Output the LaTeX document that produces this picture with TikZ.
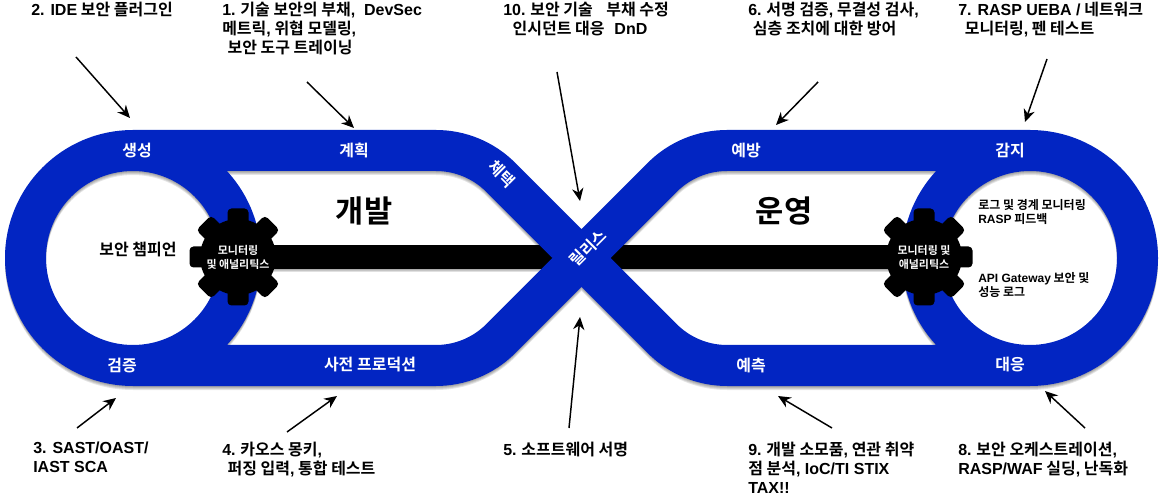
\documentclass[tikz,border=0pt]{standalone}
\usepackage{fontspec}
\setmainfont{Noto Sans CJK KR}[BoldFont=* Bold]
\newfontfamily\latfont{Liberation Sans}
\newcommand{\lat}[1]{{\latfont\bfseries #1}}
\definecolor{bandblue}{RGB}{2,37,194}
\newcommand{\bandpath}{(133,349.5) -- (436,349.5) arc[start angle=90,end angle=45,radius=91.5]
 -- (662.3,161.3) arc[start angle=225,end angle=270,radius=91.5]
 -- (1030,134.5) arc[start angle=-90,end angle=90,radius=107.5]
 -- (727,349.5) arc[start angle=90,end angle=135,radius=91.5]
 -- (500.7,161.3) arc[start angle=-45,end angle=-90,radius=91.5]
 -- (133,134.5) arc[start angle=270,end angle=90,radius=107.5] -- cycle
 (133,242) circle[radius=107.5] (1030,242) circle[radius=107.5]}
\newcommand{\gearteeth}[2]{\foreach \a in {0,45,...,315}{
  \fill[black,rounded corners=3pt,shift={(#1,#2)},rotate=\a] (30,-10.5) rectangle (48.5,10.5);}}
\tikzset{x=.75pt,y=.75pt,
 callout/.style={font=\bfseries\fontsize{12pt}{14.25pt}\selectfont,align=left,anchor=north west,inner sep=0pt,text=black},
 bandlabel/.style={font=\bfseries\fontsize{12pt}{14pt}\selectfont,text=white,inner sep=0pt},
 biglabel/.style={font=\bfseries\fontsize{23pt}{28pt}\selectfont,text=black,inner sep=0pt},
 gearlabel/.style={circle,fill=black,minimum size=57pt,inner sep=0pt,align=center,text=white,font=\bfseries\fontsize{8.2pt}{10.5pt}\selectfont},
 inlabel/.style={font=\bfseries\fontsize{9pt}{10.5pt}\selectfont,align=left,anchor=north west,inner sep=0pt,text=black},
 pointer/.style={-{Stealth[length=9.5pt,width=8.5pt]},line width=1.1pt,black},
 shadowband/.style={line width=30.75pt,black,opacity=.10,line join=round},
}
\usetikzlibrary{arrows.meta}
\begin{document}
\begin{tikzpicture}
\useasboundingbox (0,0) rectangle (1163,500);
% shadows
\foreach \d in {1,2,3,4}{\draw[shadowband,yshift=-\d*.75pt] \bandpath;}
\foreach \d in {1,2,3}{\fill[black,opacity=.12] (270,231-\d) rectangle (890,255-\d);}
% bar
\fill[black] (270,231) rectangle (890,255);
% band
\draw[line width=30.75pt,bandblue,line join=round] \bandpath;
% gears
\gearteeth{238}{243}
\gearteeth{924}{243}
\node[gearlabel] (gearL) at (238,243) {모니터링\\및 애널리틱스};
\node[gearlabel] (gearR) at (924,243) {모니터링 및\\애널리틱스};
% band labels
\node[bandlabel] (l1) at (137,349) {생성};
\node[bandlabel] (l2) at (354,350) {계획};
\node[bandlabel,rotate=-45] (l3) at (502,326) {체택};
\node[bandlabel,rotate=45] (l4) at (588,252) {릴리스};
\node[bandlabel] (l5) at (746,349.5) {예방};
\node[bandlabel] (l6) at (1010,349.5) {감지};
\node[bandlabel] (l7) at (122,134) {검증};
\node[bandlabel] (l8) at (370,135) {사전 프로덕션};
\node[bandlabel] (l9) at (751,134) {예측};
\node[bandlabel] (l10) at (1010,135) {대응};
\node[biglabel] (dev) at (364,289) {개발};
\node[biglabel] (ops) at (784,289) {운영};
\node[font=\bfseries\fontsize{12pt}{14pt}\selectfont,inner sep=0pt] (champ) at (138,250) {보안 챔피언};
\node[inlabel] (mon1) at (978,301) {로그 및 경계 모니터링\\\lat{RASP} 피드백};
\node[inlabel] (mon2) at (978,228) {\lat{API Gateway} 보안 및\\성능 로그};
% callouts
\node[callout] (c2) at (31,498) {\lat{2. IDE} 보안 플러그인};
\node[callout] (c1) at (222,498) {\lat{1.} 기술 보안의 부채\lat{,\ \ DevSec}\\메트릭\lat{,} 위협 모델링\lat{,}\\\hspace*{4pt}보안 도구 트레이닝};
\node[callout] (c10) at (503,498) {\lat{10.} 보안 기술\ \ \ \,부채 수정\\\hspace*{7pt}인시던트 대응\ \ \,\lat{DnD}};
\node[callout] (c6) at (748,498) {\lat{6.} 서명 검증\lat{,} 무결성 검사\lat{,}\\\hspace*{3.5pt}심층 조치에 대한 방어};
\node[callout] (c7) at (958,498) {\lat{7. RASP UEBA /} 네트워크\\\hspace*{5pt}모니터링\lat{,} 펜 테스트};
\node[callout] (c3) at (33,58) {\lat{3. SAST/OAST/}\\\lat{IAST SCA}};
\node[callout] (c4) at (222,58) {\lat{4.} 카오스 몽키\lat{,}\\\hspace*{4pt}퍼징 입력\lat{,} 통합 테스트};
\node[callout] (c5) at (503,58) {\lat{5.} 소프트웨어 서명};
\node[callout] (c9) at (748,58) {\lat{9.} 개발 소모품\lat{,} 연관 취약\\점 분석\lat{, IoC/TI STIX}\\\lat{TAX!!}};
\node[callout] (c8) at (958,58) {\lat{8.} 보안 오케스트레이션\lat{,}\\\lat{RASP/WAF} 실딩\lat{,} 난독화};
% pointer ends
\coordinate (a2s) at (76,443); \coordinate (a2e) at (130,382);
\coordinate (a1s) at (307,418); \coordinate (a1e) at (354,372);
\coordinate (a10s) at (557,428); \coordinate (a10e) at (580,299);
\coordinate (a6s) at (818,418); \coordinate (a6e) at (776,375);
\coordinate (a7s) at (1047,441); \coordinate (a7e) at (1025,378);
\coordinate (a3s) at (77,72); \coordinate (a3e) at (116,102);
\coordinate (a4s) at (287,68); \coordinate (a4e) at (337,104);
\coordinate (a5s) at (569,72); \coordinate (a5e) at (580,183);
\coordinate (a9s) at (832,72); \coordinate (a9e) at (778,104);
\coordinate (a8s) at (1085,72); \coordinate (a8e) at (1045,109);
\foreach \k in {2,1,10,6,7,3,4,5,9,8}{\draw[pointer] (a\k s) -- (a\k e);}
\end{tikzpicture}
\end{document}
